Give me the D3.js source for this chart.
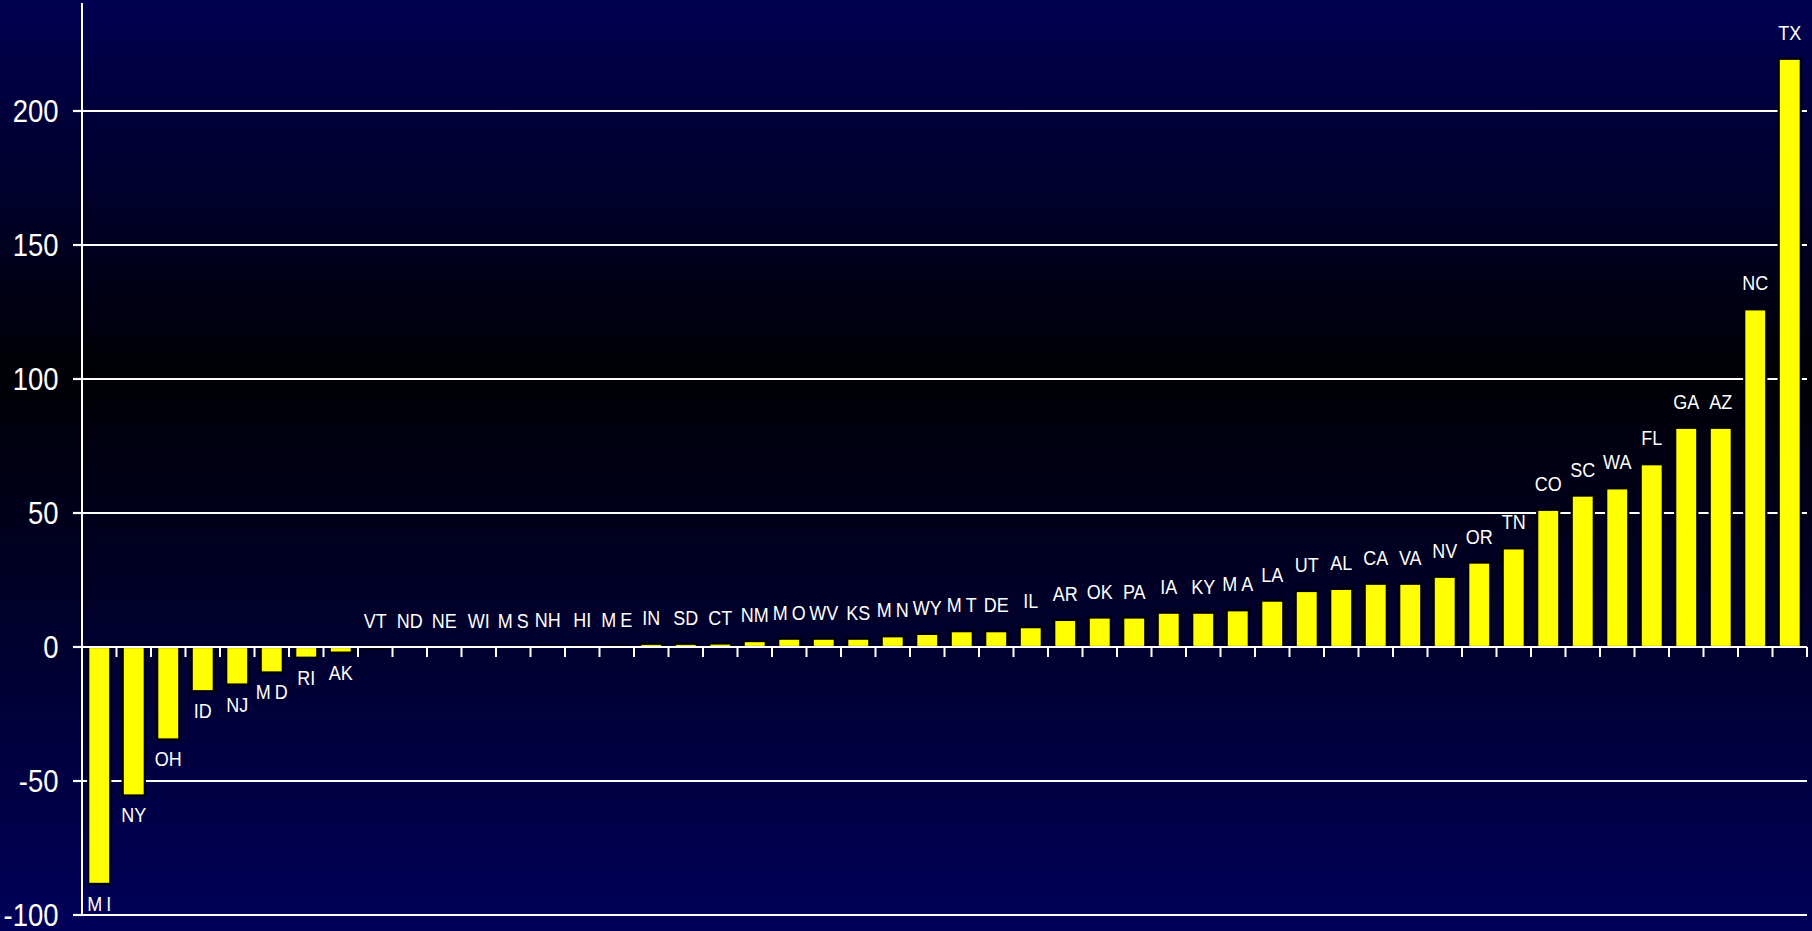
<!DOCTYPE html>
<html>
<head>
<meta charset="utf-8">
<script src="https://cdn.jsdelivr.net/npm/d3@7"></script>
<style>
  html, body { margin: 0; padding: 0; overflow: hidden; background: #000030; }
  svg { display: block; }
  text { font-family: "Liberation Sans", Arial, sans-serif; fill: #ffffff; }
</style>
</head>
<body>
<svg id="chart" width="1812" height="931"></svg>
<script>
// State abbreviations, ordered from largest decline to largest gain
const states = ["MI","NY","OH","ID","NJ","MD","RI","AK","VT","ND","NE","WI","MS","NH","HI","ME",
  "IN","SD","CT","NM","MO","WV","KS","MN","WY","MT","DE","IL","AR","OK","PA","IA","KY","MA",
  "LA","UT","AL","CA","VA","NV","OR","TN","CO","SC","WA","FL","GA","AZ","NC","TX"];

// Net change per state (thousands)
const changes = [-88.4,-55.4,-34.5,-16.5,-14,-9.5,-4,-2.1,-0.5,0,0,0,0,0.3,0.3,0.4,
  1.2,1.2,1.3,2.2,3.1,3.1,3.1,4.0,4.9,5.9,5.9,7.4,10.1,11.0,11.0,12.8,12.8,13.7,
  17.3,20.9,21.7,23.6,23.6,26.2,31.5,36.8,51.2,56.5,59.2,68.2,81.8,81.8,126,219.5];

// Value-axis tick labels
const yTicks = [-100, -50, 0, 50, 100, 150, 200];

const W = 1812, H = 931;
const svg = d3.select("#chart");

// Background: navy at the top and bottom fading to black just above the middle
const defs = svg.append("defs");
const grad = defs.append("linearGradient")
  .attr("id", "bg").attr("x1", 0).attr("y1", 0).attr("x2", 0).attr("y2", 1);
grad.append("stop").attr("offset", "0%").attr("stop-color", "#000052");
grad.append("stop").attr("offset", "40%").attr("stop-color", "#000006");
grad.append("stop").attr("offset", "100%").attr("stop-color", "#00005a");
svg.append("rect").attr("width", W).attr("height", H).attr("fill", "url(#bg)");

const left = 82, right = 1807;
const x = d3.scaleBand().domain(states).range([left, right])
  .paddingInner(0.36).paddingOuter(0.18);
const y = d3.scaleLinear().domain([-100, 240]).range([915, 3.8]);

const data = states.map((s, i) => ({ state: s, value: changes[i] }));

// Horizontal gridlines (behind the bars)
svg.append("g").selectAll("line")
  .data(yTicks.filter(t => t !== 0))
  .join("line")
  .attr("x1", left).attr("x2", right)
  .attr("y1", d => y(d)).attr("y2", d => y(d))
  .attr("stroke", "#ffffff").attr("stroke-width", 2.2);

// Bars
svg.append("g").selectAll("rect")
  .data(data)
  .join("rect")
  .attr("x", d => x(d.state))
  .attr("width", x.bandwidth())
  .attr("y", d => y(Math.max(0, d.value)))
  .attr("height", d => Math.abs(y(d.value) - y(0)))
  .attr("fill", "#ffff00")
  .attr("stroke", "#000000")
  .attr("stroke-width", 2.2);

// Category axis along zero with ticks at slot boundaries
const step = x.step();
const slotEdge = d => x(d) - step * x.paddingOuter() + step;
const xAxis = svg.append("g");
xAxis.append("line")
  .attr("x1", left).attr("x2", right)
  .attr("y1", y(0)).attr("y2", y(0))
  .attr("stroke", "#ffffff").attr("stroke-width", 2.2);
xAxis.selectAll("line.tick")
  .data(states)
  .join("line").attr("class", "tick")
  .attr("x1", d => slotEdge(d)).attr("x2", d => slotEdge(d))
  .attr("y1", y(0)).attr("y2", y(0) + 10)
  .attr("stroke", "#ffffff").attr("stroke-width", 2);

// Value axis
const yAxis = svg.append("g");
yAxis.append("line")
  .attr("x1", left).attr("x2", left)
  .attr("y1", 3).attr("y2", y(-100) + 1)
  .attr("stroke", "#ffffff").attr("stroke-width", 2);
yAxis.selectAll("line.tick")
  .data(yTicks)
  .join("line").attr("class", "tick")
  .attr("x1", left - 9).attr("x2", left)
  .attr("y1", d => y(d)).attr("y2", d => y(d))
  .attr("stroke", "#ffffff").attr("stroke-width", 2.2);
yAxis.selectAll("text")
  .data(yTicks)
  .join("text")
  .attr("transform", d => `translate(58.5,${y(d)}) scale(1,1.12)`)
  .attr("y", 9.85)
  .attr("text-anchor", "end")
  .style("font-size", "27.5px")
  .text(d => d);

// State labels: above bars that rise, below bars that drop
const labels = svg.append("g").selectAll("text")
  .data(data)
  .join("text")
  .attr("transform", d => {
    const cx = x(d.state) + x.bandwidth() / 2;
    const below = y(d.value) - y(0) > 3;
    const ty = below ? y(d.value) + 27 : y(Math.max(0, d.value)) - 19;
    return `translate(${cx},${ty}) scale(1,1.15)`;
  })
  .attr("text-anchor", "middle")
  .style("font-size", "18px");

labels.each(function(d) {
  const t = d3.select(this);
  if (d.state[0] === "M") {
    t.append("tspan").text("M");
    t.append("tspan").attr("dx", 4).text(d.state.slice(1));
  } else {
    t.text(d.state);
  }
});
</script>
</body>
</html>
